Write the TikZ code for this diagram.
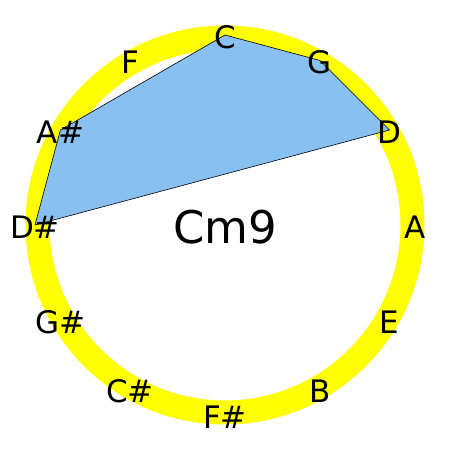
\documentclass[tikz,border=0pt]{standalone}
\usepackage{fontspec}
\setmainfont{DejaVu Sans}
\definecolor{chordblue}{RGB}{137,192,242}
\definecolor{ringyellow}{RGB}{255,255,0}
\begin{document}
\begin{tikzpicture}[x=1pt,y=1pt,
  ring/.style={draw=ringyellow, line width=24pt},
  chordpoly/.style={fill=chordblue, draw=black, line width=0.6pt, line join=miter},
  notelabel/.style={font=\fontsize{31}{31}\selectfont, inner sep=0pt, text=black},
  chordname/.style={font=\fontsize{45}{45}\selectfont, inner sep=0pt, text=black}]
\useasboundingbox (-225,-225) rectangle (225,225);
\fill[white] (-225,-225) rectangle (225,225);
\draw[ring] (0,0) circle (187.5);
\foreach \i in {0,...,11} {
  \coordinate (v\i) at ({90-30*\i}:190);
}
\draw[chordpoly] (v0) -- (v1) -- (v2) -- (v9) -- (v10) -- cycle;
\foreach \n [count=\i from 0] in {C,G,D,A,E,B,F\#,C\#,G\#,D\#,A\#,F} {
  \node[notelabel, yshift=-2pt] (l\i) at (v\i) {\n};
}
\node[chordname] (chord) at (0,-2) {Cm9};
\end{tikzpicture}
\end{document}
